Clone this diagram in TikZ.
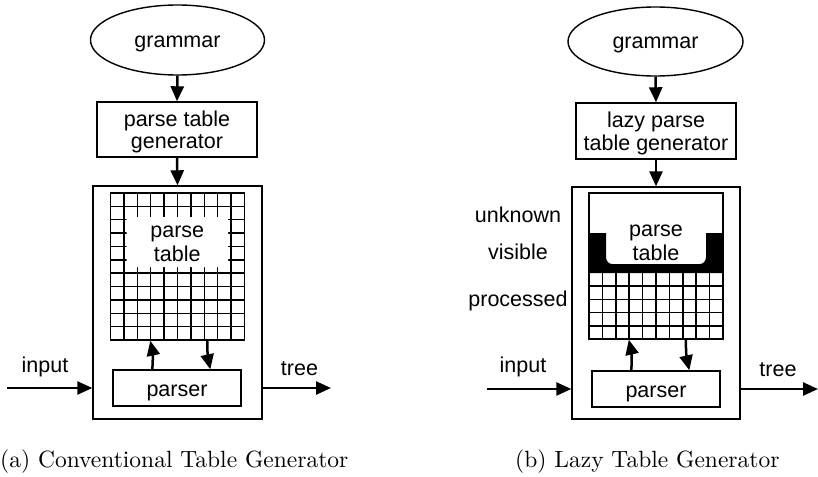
\documentclass[tikz,border=0pt]{standalone}
\usepackage{fontspec}
\setsansfont{Liberation Sans}
\newfontfamily\capfont{lmroman10-regular}[Extension=.otf]
\usetikzlibrary{arrows.meta,shapes.geometric,calc}
\begin{document}
\begin{tikzpicture}[x=1pt,y=-1pt,
  sf/.style={font=\sffamily\fontsize{21.5}{22}\selectfont},
  boxn/.style={draw, line width=1.4pt, inner sep=0pt},
  elln/.style={draw, ellipse, line width=1.4pt, inner sep=0pt},
  arr/.style={line width=2.5pt, -{Triangle[length=15pt,width=13pt]}},
  lbl/.style={sf, anchor=base, inner sep=0pt},
  gridln/.style={line width=1.5pt},
  captxt/.style={font=\capfont\fontsize{23.5}{28}\selectfont, anchor=base west, inner sep=0pt},
]
\useasboundingbox (0,0) rectangle (818,476);

% ---------------- left panel ----------------
\node[elln, minimum width=174pt, minimum height=70pt] (gramA) at (177.5,40) {};
\node[lbl] (gramAt) at (177.5,48) {grammar};
\node[boxn, minimum width=160pt, minimum height=55pt] (genA) at (177,129.5) {};
\node[lbl] (genAt1) at (177,126) {parse table};
\node[lbl] (genAt2) at (177,148) {generator};
\node[boxn, minimum width=169pt, minimum height=233pt] (outerA) at (177.5,302.5) {};
\node[boxn, minimum width=134pt, minimum height=147pt] (tableA) at (177.5,266.5) {};
\foreach \i in {1,...,9} \draw[gridln] (110.5+13.4*\i,193) -- (110.5+13.4*\i,340);
\foreach \j in {1,...,10} \draw[gridln] (110.5,193+13.3636*\j) -- (244.5,193+13.3636*\j);
\fill[white, rounded corners=2pt] (126.5,217) rectangle (228,267);
\node[lbl] (ptA1) at (177.25,237) {parse};
\node[lbl] (ptA2) at (177.25,261) {table};
\node[boxn, minimum width=128pt, minimum height=36pt] (parserA) at (177,388) {};
\node[lbl] (parserAt) at (177,396) {parser};
\draw[arr] (gramA.south) -- (genA.north);
\draw[arr] (genA.south) -- (outerA.north);
\draw[arr] ($(parserA.north west)+(40,0)$) to[bend right=8] ($(tableA.south west)+(40.5,0)$);
\draw[arr] ($(tableA.south west)+(97.5,0)$) to[bend right=6] ($(parserA.north west)+(98,0)$);
\coordinate (inA) at (7,388);
\coordinate (treeA) at (331,388);
\draw[arr] (inA) -- (inA -| outerA.west);
\draw[arr] (treeA -| outerA.east) -- (treeA);
\node[lbl] (inAt) at (45,372) {input};
\node[lbl] (treeAt) at (299.5,375) {tree};
\node[captxt] (capA) at (0,467) {(a) Conventional Table Generator};

% ---------------- right panel ----------------
\node[elln, minimum width=175pt, minimum height=69pt] (gramB) at (655.5,41.5) {};
\node[lbl] (gramBt) at (655.5,49) {grammar};
\node[boxn, minimum width=160pt, minimum height=56pt] (genB) at (656,131) {};
\node[lbl] (genBt1) at (656,127) {lazy parse};
\node[lbl] (genBt2) at (656,150) {table generator};
\node[boxn, minimum width=168pt, minimum height=232pt] (outerB) at (656,303) {};
\node[boxn, minimum width=134pt, minimum height=146pt] (tableB) at (656,266) {};
\foreach \i in {1,...,9} \draw[gridln] (589+13.4*\i,273) -- (589+13.4*\i,339);
\foreach \j in {1,...,4} \draw[gridln] (589,273+13.2*\j) -- (723,273+13.2*\j);
\fill[black] (589,233) -- (606,233) -- (606,257) to[out=-90,in=180] (612,264) -- (700,264) to[out=0,in=-90] (706,257) -- (706,233) -- (723,233) -- (723,273) -- (589,273) -- cycle;
\node[lbl] (ptB1) at (656,236.5) {parse};
\node[lbl] (ptB2) at (656,260) {table};
\node[boxn, minimum width=128pt, minimum height=36pt] (parserB) at (656,389) {};
\node[lbl] (parserBt) at (656,397) {parser};
\draw[arr] (gramB.south) -- (genB.north);
\draw[arr] (genB.south) -- (outerB.north);
\draw[arr] ($(parserB.north west)+(40,0)$) to[bend right=8] ($(tableB.south west)+(40.5,0)$);
\draw[arr] ($(tableB.south west)+(97.5,0)$) to[bend right=6] ($(parserB.north west)+(98,0)$);
\coordinate (inB) at (487,389);
\coordinate (treeB) at (818,389);
\draw[arr] (inB) -- (inB -| outerB.west);
\draw[arr] (treeB -| outerB.east) -- (treeB);
\node[lbl] (unkt) at (518,222) {unknown};
\node[lbl] (vist) at (518,259) {visible};
\node[lbl] (proct) at (518,306) {processed};
\node[lbl] (inBt) at (523,372) {input};
\node[lbl] (treeBt) at (778,376) {tree};
\node[captxt] (capB) at (515,467) {(b) Lazy Table Generator};
\end{tikzpicture}
\end{document}
